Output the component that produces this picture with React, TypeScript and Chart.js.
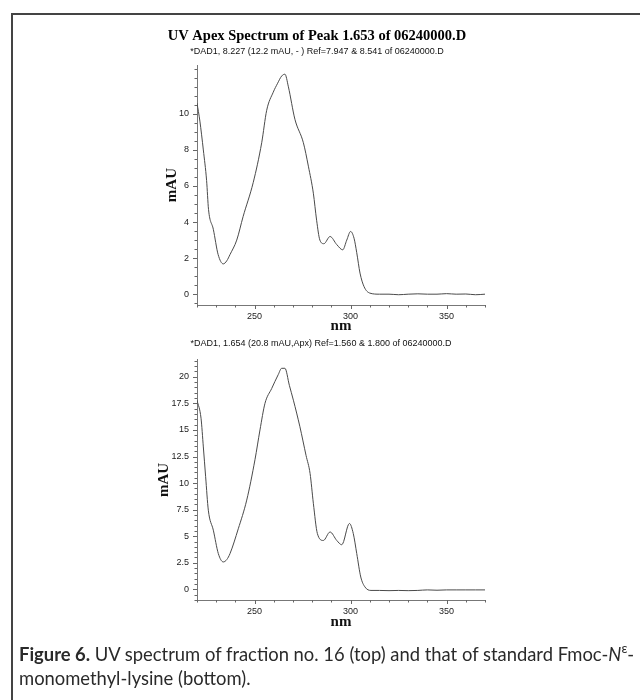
import React, { useEffect, useRef } from "react";
import { Chart, registerables } from "chart.js";
Chart.register(...registerables);

const topTitle = "UV Apex Spectrum of Peak 1.653 of 06240000.D";
const topSubtitle = "*DAD1, 8.227 (12.2 mAU, - ) Ref=7.947 & 8.541 of 06240000.D";
const bottomSubtitle = "*DAD1, 1.654 (20.8 mAU,Apx) Ref=1.560 & 1.800 of 06240000.D";
const xAxisTitle = "nm";
const yAxisTitle = "mAU";

const xTickLabels = [250, 300, 350];
const topYTickLabels = [0, 2, 4, 6, 8, 10];
const bottomYTickLabels = [0, 2.5, 5, 7.5, 10, 12.5, 15, 17.5, 20];

const topNm = [220, 221.5, 223.3, 225, 226, 228.5, 231, 233.7, 235.5, 237.2, 240.7, 244, 249.3, 253.7, 256.3, 259.7, 262, 264.1, 265.8, 267.6, 271, 275.4, 278, 280.6, 282.3, 284, 286.1, 289.3, 292.8, 295.9, 298, 300, 301.8, 303.2, 304.9, 307, 310, 315, 320, 325, 330, 335, 340, 345, 350, 355, 360, 365, 370];
const topMAU = [10.6, 9.6, 8.0, 6.3, 4.7, 3.6, 2.2, 1.68, 1.85, 2.2, 3.0, 4.3, 6.2, 8.4, 10.2, 11.2, 11.7, 12.1, 12.2, 11.5, 9.7, 8.4, 7.1, 5.6, 4.1, 3.0, 2.8, 3.2, 2.75, 2.46, 3.0, 3.48, 3.1, 2.3, 1.17, 0.42, 0.06, 0.0, 0.0, -0.03, 0.0, 0.02, 0.0, 0.0, 0.03, 0.0, 0.01, -0.03, 0.0];

const bottomNm = [220, 222.1, 223.3, 224.5, 225.9, 228.5, 231.1, 233.7, 235.5, 237.2, 241.5, 245.9, 250.2, 252.8, 255.4, 258.9, 262.3, 264.1, 265.8, 268.1, 270.2, 273.6, 276.8, 278.9, 280.6, 282.7, 285.8, 289.3, 292.8, 295.4, 299.4, 301.4, 303.2, 305.3, 307.5, 310.6, 315, 320, 325, 330, 335, 340, 345, 350, 355, 360, 365, 370];
const bottomMAU = [17.8, 16.1, 13.4, 10.6, 7.45, 5.57, 3.37, 2.58, 2.8, 3.37, 5.7, 8.4, 12.2, 15.0, 17.5, 18.9, 20.2, 20.8, 20.8, 19.2, 17.8, 15.3, 12.6, 10.9, 8.1, 5.25, 4.6, 5.4, 4.6, 4.2, 6.2, 5.25, 3.37, 1.16, 0.22, -0.1, -0.1, -0.12, -0.1, -0.12, -0.1, -0.05, -0.08, -0.05, -0.05, -0.05, -0.05, -0.05];

const SANS = "'Liberation Sans', Arial, sans-serif";
const SERIF = "'Liberation Serif', 'Times New Roman', serif";

const axisTicksPlugin = {
  id: "axisTicks",
  afterDraw(chart: any) {
    const ctx = chart.ctx;
    const xs = chart.scales.x;
    const ys = chart.scales.y;
    ctx.save();
    ctx.strokeStyle = "#666";
    ctx.lineWidth = 1;
    xs.ticks.forEach((t: any) => {
      const px = Math.round(xs.getPixelForValue(t.value)) + 0.5;
      const len = t.label !== "" ? 4 : 2.5;
      ctx.beginPath();
      ctx.moveTo(px, xs.top);
      ctx.lineTo(px, xs.top + len);
      ctx.stroke();
    });
    ys.ticks.forEach((t: any) => {
      const py = Math.round(ys.getPixelForValue(t.value)) + 0.5;
      const len = t.label !== "" ? 4 : 2.5;
      ctx.beginPath();
      ctx.moveTo(ys.right, py);
      ctx.lineTo(ys.right - len, py);
      ctx.stroke();
    });
    ctx.restore();
  },
};

function inList(v: number, list: number[]) {
  return list.some((l) => Math.abs(l - v) < 1e-6);
}

type SpecProps = {
  left: number;
  top: number;
  width: number;
  height: number;
  nm: number[];
  mau: number[];
  yMin: number;
  yMax: number;
  yLabels: number[];
  title?: string;
  subtitle: string;
  titlePad: { top: number; bottom: number };
  subPad: { top: number; bottom: number };
  yScaleWidth: number;
  yTitlePadTop: number;
  xScaleHeight: number;
};

function Spectrum(p: SpecProps) {
  const ref = useRef<HTMLCanvasElement | null>(null);
  useEffect(() => {
    if (!ref.current) return;
    const points = p.nm.map((x, i) => ({ x, y: p.mau[i] }));
    const chart = new Chart(ref.current, {
      type: "line",
      data: {
        datasets: [
          {
            data: points,
            borderColor: "#4a4a4a",
            borderWidth: 1,
            pointRadius: 0,
            cubicInterpolationMode: "monotone",
            fill: false,
          },
        ],
      },
      options: {
        animation: false,
        responsive: false,
        maintainAspectRatio: false,
        devicePixelRatio: 1,
        layout: { padding: { left: 0, right: 8, top: 0, bottom: 0 } },
        plugins: {
          legend: { display: false },
          tooltip: { enabled: false },
          title: {
            display: !!p.title,
            text: p.title || "",
            color: "#000",
            font: { family: SERIF, size: 14.5, weight: "bold" },
            padding: p.titlePad,
          },
          subtitle: {
            display: true,
            text: p.subtitle,
            color: "#111",
            font: { family: SANS, size: 9 },
            padding: p.subPad,
          },
        },
        scales: {
          x: {
            type: "linear",
            min: 220,
            max: 370,
            grid: { display: false, drawTicks: false },
            border: { display: true, color: "#777", width: 1 },
            ticks: {
              stepSize: 10,
              autoSkip: false,
              maxRotation: 0,
              includeBounds: false,
              padding: 6,
              color: "#222",
              font: { family: SANS, size: 9 },
              callback: (v: any) => (inList(Number(v), xTickLabels) ? String(v) : ""),
            },
            title: {
              display: true,
              text: xAxisTitle,
              color: "#111",
              font: { family: SERIF, size: 15, weight: "bold" },
              padding: { top: 0, bottom: 0 },
            },
            afterFit: (s: any) => {
              s.height = p.xScaleHeight;
            },
          },
          y: {
            type: "linear",
            min: p.yMin,
            max: p.yMax,
            grid: { display: false, drawTicks: false },
            border: { display: true, color: "#777", width: 1 },
            ticks: {
              stepSize: 0.5,
              autoSkip: false,
              includeBounds: false,
              padding: 8,
              color: "#222",
              font: { family: SANS, size: 9 },
              callback: (v: any) => (inList(Number(v), p.yLabels) ? String(Number(v)) : ""),
            },
            title: {
              display: true,
              text: yAxisTitle,
              color: "#111",
              font: { family: SERIF, size: 15, weight: "bold" },
              padding: { top: p.yTitlePadTop, bottom: 0 },
            },
            afterFit: (s: any) => {
              s.width = p.yScaleWidth;
            },
          },
        },
      },
      plugins: [axisTicksPlugin],
    } as any);
    return () => chart.destroy();
  }, []);
  return (
    <div style={{ position: "fixed", left: p.left, top: p.top, width: p.width, height: p.height }}>
      <canvas ref={ref} width={p.width} height={p.height} style={{ width: p.width, height: p.height, display: "block" }} />
    </div>
  );
}

export default function App() {
  return (
    <div>
      <div
        style={{
          position: "fixed",
          left: 11,
          top: 13,
          width: 700,
          height: 700,
          borderLeft: "2px solid #444",
          borderTop: "2px solid #444",
          boxSizing: "border-box",
        }}
      />
      <Spectrum
        left={149}
        top={22}
        width={344}
        height={313}
        nm={topNm}
        mau={topMAU}
        yMin={-0.6}
        yMax={12.7}
        yLabels={topYTickLabels}
        title={topTitle}
        subtitle={topSubtitle}
        titlePad={{ top: 6, bottom: 0 }}
        subPad={{ top: 1, bottom: 8 }}
        yScaleWidth={48}
        yTitlePadTop={14}
        xScaleHeight={30}
      />
      <Spectrum
        left={157}
        top={336}
        width={336}
        height={295}
        nm={bottomNm}
        mau={bottomMAU}
        yMin={-1.0}
        yMax={21.6}
        yLabels={bottomYTickLabels}
        subtitle={bottomSubtitle}
        titlePad={{ top: 0, bottom: 0 }}
        subPad={{ top: 2, bottom: 11 }}
        yScaleWidth={40}
        yTitlePadTop={-2}
        xScaleHeight={31}
      />
      <div
        style={{
          position: "fixed",
          left: 19,
          top: 642,
          fontFamily: "Lato, 'Open Sans', sans-serif",
          fontSize: 18.4,
          lineHeight: "24px",
          color: "#2a2a2a",
          whiteSpace: "nowrap",
        }}
      >
        <div>
          <b>Figure 6.</b> UV spectrum of fraction no. 16 (top) and that of standard Fmoc-<i>N</i>
          <sup style={{ fontSize: 13, verticalAlign: "top", lineHeight: "13px" }}>ε</sup>-
        </div>
        <div>monomethyl-lysine (bottom).</div>
      </div>
    </div>
  );
}
